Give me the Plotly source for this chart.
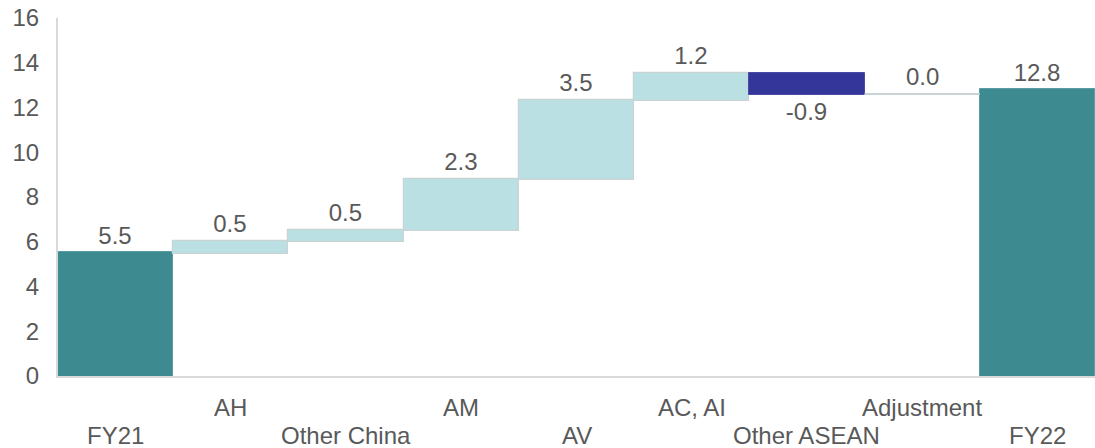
import plotly.graph_objects as go

categories = ["FY21", "AH", "Other China", "AM", "AV", "AC, AI", "Other ASEAN", "Adjustment", "FY22"]
values = [5.5, 0.5, 0.5, 2.3, 3.5, 1.2, -0.9, 0.0, 12.8]
measures = ["absolute", "relative", "relative", "relative", "relative", "relative", "relative", "relative", "absolute"]
y_ticks = [0, 2, 4, 6, 8, 10, 12, 14, 16]

TEXT = "#595959"
FONT = "Liberation Sans, Arial, sans-serif"
SIZE = 24

fig = go.Figure(go.Waterfall(
    x=categories,
    y=values,
    measure=measures,
    text=[f"{v:.1f}" for v in values],
    textposition="outside",
    textfont=dict(size=SIZE, color=TEXT, family=FONT),
    cliponaxis=False,
    increasing=dict(marker=dict(color="#BAE0E3", line=dict(color="#C9D3D4", width=1.2))),
    decreasing=dict(marker=dict(color="#35369A", line=dict(color="#4A4BA6", width=1))),
    totals=dict(marker=dict(color="#3D8B91", line=dict(color="#5A9CA1", width=1))),
    connector=dict(line=dict(color="#D0D0D0", width=1.2)),
))

# zero-height steps are not drawn by the waterfall trace: show them as a flat line
running = 0.0
for i, (c, v, m) in enumerate(zip(categories, values, measures)):
    start = 0.0 if m == "absolute" else running
    running = v if m == "absolute" else running + v
    if m == "relative" and v == 0:
        fig.add_shape(type="line", xref="x", yref="y", x0=i - 0.5, x1=i + 0.5,
                      y0=start, y1=start, line=dict(color="#C9D3D4", width=2))
        fig.add_annotation(x=c, y=start, xref="x", yref="y", text=f"{v:.1f}",
                           showarrow=False, yanchor="bottom", yshift=2,
                           font=dict(size=SIZE, color=TEXT, family=FONT))

# staggered category labels: odd positions on the upper row, even on the lower row
for i, c in enumerate(categories):
    fig.add_annotation(
        x=c, y=-0.089 if i % 2 else -0.165, xref="x", yref="paper",
        text=c, showarrow=False, yanchor="middle",
        font=dict(size=SIZE, color=TEXT, family=FONT),
    )

fig.update_layout(
    width=1095, height=448,
    margin=dict(l=58, r=0, t=18, b=72),
    paper_bgcolor="white", plot_bgcolor="white",
    showlegend=False,
    waterfallgap=0,
    font=dict(family=FONT, color=TEXT),
    xaxis=dict(showticklabels=False, showline=True, linecolor="#D9D9D9", linewidth=2,
               ticks="", showgrid=False, zeroline=False),
    yaxis=dict(range=[0, 16], tickvals=y_ticks, showgrid=False, zeroline=False,
               showline=True, linecolor="#D9D9D9", linewidth=2,
               tickfont=dict(size=SIZE, color=TEXT, family=FONT), ticks="", ticklabelstandoff=12),
)

fig.write_html("out.html")
